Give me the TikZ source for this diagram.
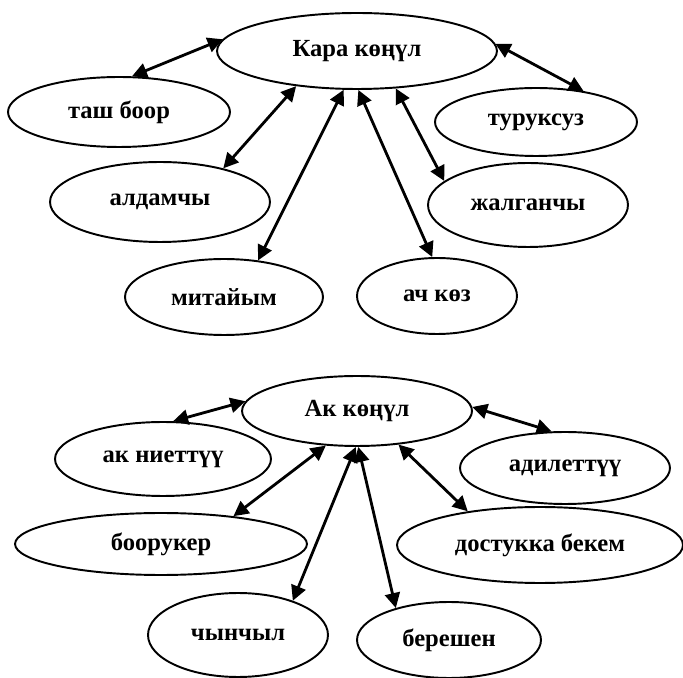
\documentclass[tikz,border=0pt]{standalone}
\usepackage{fontspec}
\setmainfont{Liberation Serif}
\usetikzlibrary{shapes.geometric,arrows.meta}

\tikzset{
	bubble/.style 2 args={ellipse, draw, line width=1.1pt, inner sep=0pt,
		minimum width=#1, minimum height=#2,
		font=\bfseries\fontsize{14}{16}\selectfont},
	link/.style={line width=1.6pt,
		{Triangle[length=0.3cm,width=0.3cm]}-{Triangle[length=0.3cm,width=0.3cm]}},
}

\begin{document}
\begin{tikzpicture}[x=0.02cm, y=-0.02cm]
		
		% ---------------------
		% Proper size --- Bounding box
		\useasboundingbox (0,0) rectangle (683,678);
		
		% ---------------------
		% Upper cluster
		\node[bubble={5.6cm}{1.52cm}]  (kara)   at (357,51)  {Кара көңүл};
		\node[bubble={4.44cm}{1.4cm}]  (tash)   at (119,112) {таш боор};
		\node[bubble={4.04cm}{1.36cm}] (turuk)  at (536,122) {туруксуз};
		\node[bubble={4.4cm}{1.6cm}]   (aldam)  at (160,202) {алдамчы};
		\node[bubble={4.0cm}{1.68cm}]  (jalgan) at (528,205) {жалганчы};
		\node[bubble={3.96cm}{1.52cm}] (mitai)  at (224,297) {митайым};
		\node[bubble={3.2cm}{1.52cm}]  (achkoz) at (437,296) {ач көз};
		
		% ---------------------
		% Lower cluster
		\node[bubble={4.6cm}{1.4cm}]   (ak)     at (357,411) {Ак көңүл};
		\node[bubble={4.32cm}{1.48cm}] (akniet) at (163,459) {ак ниеттүү};
		\node[bubble={4.2cm}{1.44cm}]  (adil)   at (565,468) {адилеттүү};
		\node[bubble={5.84cm}{1.24cm}] (boor)   at (161,544) {боорукер};
		\node[bubble={5.72cm}{1.52cm}] (dostuk) at (540,545) {достукка бекем};
		\node[bubble={3.6cm}{1.68cm}]  (chyn)   at (238,635) {чынчыл};
		\node[bubble={3.68cm}{1.52cm}] (beresh) at (449,640) {берешен};
		
		% ---------------------
		\draw[link] (kara.175) -- (tash.70);
		\draw[link] (kara.3)   -- (turuk.33);
		\draw[link] (kara.210) -- (aldam.28);
		\draw[link] (kara.251) -- (mitai.47);
		\draw[link] (kara.272) -- (achkoz.97);
		\draw[link] (kara.316) -- (jalgan.164);
		
		\draw[link] (ak.175) -- (akniet.75);
		\draw[link] (ak.2)   -- (adil.110);
		\draw[link] (ak.228) -- (boor.21);
		\draw[link] (ak.268) -- (chyn.32);
		\draw[link] (ak.272) -- (beresh.149);
		\draw[link] (ak.321) -- (dostuk.155);
		
\end{tikzpicture}
\end{document}
